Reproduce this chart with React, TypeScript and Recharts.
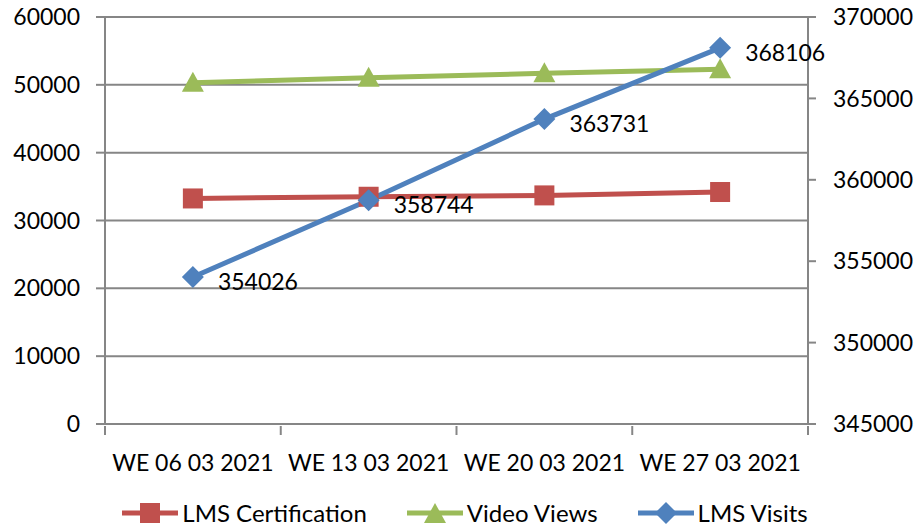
import React from "react";
import {
    ComposedChart,
    Line,
    XAxis,
    YAxis,
    CartesianGrid,
    Legend,
    LabelList,
} from "recharts";

// values
const weeks = ["WE 06 03 2021", "WE 13 03 2021", "WE 20 03 2021", "WE 27 03 2021"];
const lmsCertification = [33250, 33500, 33700, 34200];
const videoViews = [50300, 51050, 51700, 52300];
const lmsVisits = [354026, 358744, 363731, 368106];
const leftTicks = [0, 10000, 20000, 30000, 40000, 50000, 60000];
const rightTicks = [345000, 350000, 355000, 360000, 365000, 370000];

const data = weeks.map((week, i) => ({
    week,
    cert: lmsCertification[i],
    views: videoViews[i],
    visits: lmsVisits[i],
}));

const RED = "#C0504D";
const GREEN = "#9BBB59";
const BLUE = "#4F81BD";
const GRID = "#868686";
const FONT = "Lato, 'Open Sans', sans-serif";
const FS = 23;

const W = 916;
const H = 527;
const LEFT_W = 105;
const RIGHT_W = 108;
const band = (W - LEFT_W - RIGHT_W) / weeks.length;

const Square = (p: any) => (
    <rect x={p.cx - 10} y={p.cy - 10} width={20} height={20} fill={RED} />
);
const Triangle = (p: any) => (
    <polygon points={`${p.cx},${p.cy - 11} ${p.cx + 11},${p.cy + 9} ${p.cx - 11},${p.cy + 9}`} fill={GREEN} />
);
const Diamond = (p: any) => (
    <polygon points={`${p.cx},${p.cy - 11} ${p.cx + 11},${p.cy} ${p.cx},${p.cy + 11} ${p.cx - 11},${p.cy}`} fill={BLUE} />
);

const WeekTick = (p: any) => {
    const { x, y, payload, index } = p;
    return (
        <g>
            <line x1={x - band / 2} x2={x - band / 2} y1={y} y2={y + 9} stroke={GRID} strokeWidth={2} />
            {index === weeks.length - 1 && (
                <line x1={x + band / 2} x2={x + band / 2} y1={y} y2={y + 9} stroke={GRID} strokeWidth={2} />
            )}
            <text x={x} y={y + 36} textAnchor="middle" dominantBaseline="central" fill="#000" fontSize={FS} fontFamily={FONT}>
                {payload.value}
            </text>
        </g>
    );
};

const VisitLabel = (p: any) => (
    <text x={p.x + 25} y={p.y + 4} dominantBaseline="central" fill="#000" fontSize={FS} fontFamily={FONT}>
        {p.value}
    </text>
);

const legendItems = [
    { name: "LMS Certification", color: RED, marker: "square" },
    { name: "Video Views", color: GREEN, marker: "triangle" },
    { name: "LMS Visits", color: BLUE, marker: "diamond" },
];

const LegendContent = () => (
    <div style={{ display: "flex", justifyContent: "center", gap: 40, paddingTop: 14, paddingLeft: 14, fontFamily: FONT, fontSize: 24, lineHeight: "24px" }}>
        {legendItems.map(it => (
            <div key={it.name} style={{ display: "flex", alignItems: "center", gap: 4 }}>
                <svg width={56} height={24}>
                    <line x1={0} x2={56} y1={12} y2={12} stroke={it.color} strokeWidth={5} />
                    {it.marker === "square" && <rect x={18} y={2} width={20} height={20} fill={it.color} />}
                    {it.marker === "triangle" && <polygon points="28,2 39,22 17,22" fill={it.color} />}
                    {it.marker === "diamond" && <polygon points="28,1 39,12 28,23 17,12" fill={it.color} />}
                </svg>
                <span style={{ color: "#000" }}>{it.name}</span>
            </div>
        ))}
    </div>
);

export default function App() {
    const tickStyle = { fill: "#000", fontSize: FS, fontFamily: FONT };
    return (
        <div style={{ width: W, height: H, background: "#fff", fontFamily: FONT }}>
            <style>{`body{margin:0}`}</style>
            <ComposedChart width={W} height={H} data={data} margin={{ top: 17, right: 0, left: 0, bottom: 0 }}>
                <CartesianGrid yAxisId="left" vertical={false} stroke={GRID} strokeWidth={2} />
                <XAxis
                    dataKey="week"
                    height={63}
                    padding={{ left: band / 2, right: band / 2 }}
                    tickSize={0}
                    tickLine={false}
                    axisLine={{ stroke: GRID, strokeWidth: 2 }}
                    tick={<WeekTick />}
                    interval={0}
                />
                <YAxis
                    yAxisId="left"
                    width={LEFT_W}
                    domain={[0, 60000]}
                    ticks={leftTicks}
                    interval={0}
                    tickSize={9}
                    tickMargin={16}
                    tick={tickStyle}
                    axisLine={{ stroke: GRID, strokeWidth: 2 }}
                    tickLine={{ stroke: GRID, strokeWidth: 2 }}
                />
                <YAxis
                    yAxisId="right"
                    orientation="right"
                    width={RIGHT_W}
                    domain={[345000, 370000]}
                    ticks={rightTicks}
                    interval={0}
                    tickSize={8}
                    tickMargin={17}
                    tick={tickStyle}
                    axisLine={{ stroke: GRID, strokeWidth: 2 }}
                    tickLine={{ stroke: GRID, strokeWidth: 2 }}
                />
                <Legend verticalAlign="bottom" height={40} content={<LegendContent />} />
                <Line yAxisId="left" dataKey="cert" name="LMS Certification" stroke={RED} strokeWidth={5} dot={<Square />} activeDot={false} isAnimationActive={false} />
                <Line yAxisId="left" dataKey="views" name="Video Views" stroke={GREEN} strokeWidth={5} dot={<Triangle />} activeDot={false} isAnimationActive={false} />
                <Line yAxisId="right" dataKey="visits" name="LMS Visits" stroke={BLUE} strokeWidth={5} dot={<Diamond />} activeDot={false} isAnimationActive={false}>
                    <LabelList dataKey="visits" content={<VisitLabel />} />
                </Line>
            </ComposedChart>
        </div>
    );
}
